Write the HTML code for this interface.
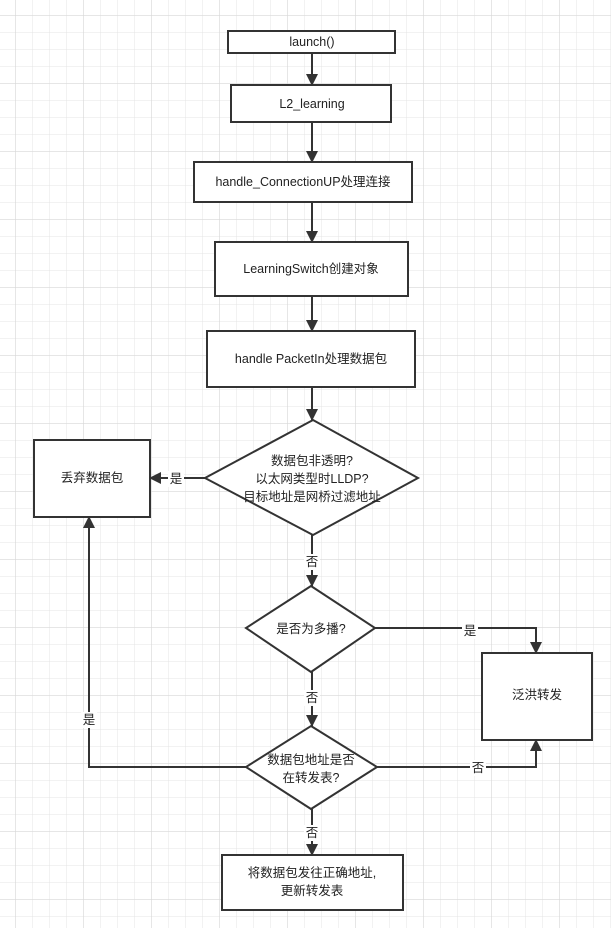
<!DOCTYPE html>
<html><head><meta charset="utf-8"><style>
html,body{margin:0;padding:0;background:#fff;}
svg{display:block;}
text{font-family:"Liberation Sans","Noto Sans CJK SC",sans-serif;font-size:12.5px;fill:#222;text-anchor:middle;dominant-baseline:central;}
</style></head><body>
<svg width="611" height="928" viewBox="0 0 611 928" xmlns="http://www.w3.org/2000/svg">
<defs>
<pattern id="g" x="15" y="15" width="17" height="17" patternUnits="userSpaceOnUse">
<path d="M0 0H17M0 0V17" stroke="#e4e4e4" stroke-width="1" fill="none"/>
</pattern>
<pattern id="G" x="15" y="15" width="68" height="68" patternUnits="userSpaceOnUse">
<path d="M0 0H68M0 0V68" stroke="#d8d8d8" stroke-width="1.3" fill="none"/>
</pattern>
<marker id="a" markerWidth="12" markerHeight="12" refX="11" refY="6" orient="auto" markerUnits="userSpaceOnUse">
<path d="M0 0L12 6L0 12Z" fill="#333"/>
</marker>
</defs>
<rect width="611" height="928" fill="url(#g)"/>
<rect width="611" height="928" fill="url(#G)"/>
<g stroke="#333" stroke-width="2" fill="#fff">
<rect x="228" y="31" width="167" height="22"/>
<rect x="231" y="85" width="160" height="37"/>
<rect x="194" y="162" width="218" height="40"/>
<rect x="215" y="242" width="193" height="54"/>
<rect x="207" y="331" width="208" height="56"/>
<polygon points="313,420 418,478 313,535 205,478"/>
<rect x="34" y="440" width="116" height="77"/>
<polygon points="311,586 375,628 311,672 246,628"/>
<rect x="482" y="653" width="110" height="87"/>
<polygon points="311,726 377,767 311,809 246,767"/>
<rect x="222" y="855" width="181" height="55"/>
</g>
<g stroke="#333" stroke-width="2" fill="none" marker-end="url(#a)">
<line x1="312" y1="53" x2="312" y2="85"/>
<line x1="312" y1="122" x2="312" y2="162"/>
<line x1="312" y1="202" x2="312" y2="242"/>
<line x1="312" y1="296" x2="312" y2="331"/>
<line x1="312" y1="387" x2="312" y2="420"/>
<line x1="205" y1="478" x2="150" y2="478"/>
<line x1="312" y1="535" x2="312" y2="586"/>
<polyline points="375,628 536,628 536,653"/>
<line x1="312" y1="672" x2="312" y2="726"/>
<polyline points="246,767 89,767 89,517"/>
<polyline points="377,767 536,767 536,740"/>
<line x1="312" y1="809" x2="312" y2="855"/>
</g>
<g fill="#fff">
<rect x="168" y="471" width="16" height="16"/>
<rect x="304" y="554" width="16" height="16"/>
<rect x="462" y="623" width="16" height="16"/>
<rect x="304" y="690" width="16" height="16"/>
<rect x="81" y="712" width="16" height="16"/>
<rect x="470" y="760" width="16" height="16"/>
<rect x="304" y="825" width="16" height="16"/>
</g>
<text x="312" y="42">launch()</text>
<text x="312" y="104">L2_learning</text>
<text x="303" y="182">handle_ConnectionUP处理连接</text>
<text x="311" y="269">LearningSwitch创建对象</text>
<text x="311" y="359">handle PacketIn处理数据包</text>
<text x="312" y="461">数据包非透明?</text>
<text x="312" y="479">以太网类型时LLDP?</text>
<text x="312" y="497">目标地址是网桥过滤地址</text>
<text x="92" y="478">丢弃数据包</text>
<text x="311" y="629">是否为多播?</text>
<text x="537" y="695">泛洪转发</text>
<text x="311" y="760">数据包地址是否</text>
<text x="311" y="778">在转发表?</text>
<text x="312" y="873">将数据包发往正确地址,</text>
<text x="312" y="891">更新转发表</text>
<text x="176" y="479">是</text>
<text x="312" y="562">否</text>
<text x="470" y="631">是</text>
<text x="312" y="698">否</text>
<text x="89" y="720">是</text>
<text x="478" y="768">否</text>
<text x="312" y="833">否</text>
</svg>
</body></html>
